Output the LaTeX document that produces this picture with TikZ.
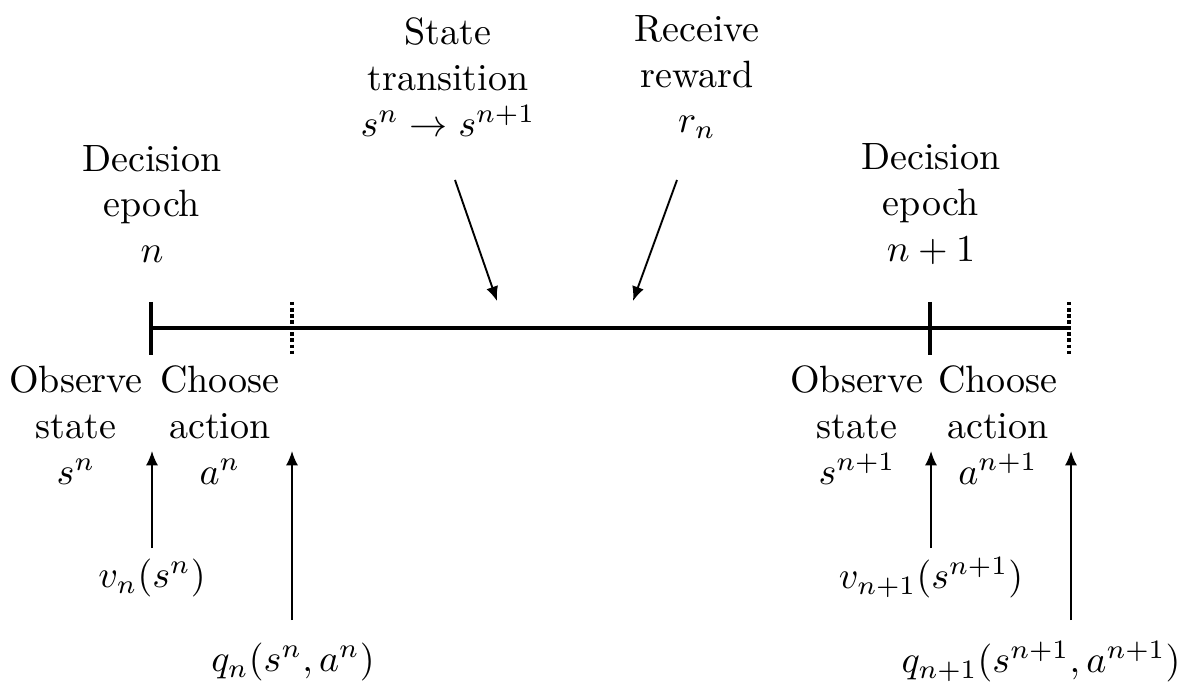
\documentclass[tikz,border=0pt]{standalone}
\usetikzlibrary{arrows.meta}
\begin{document}
\begin{tikzpicture}[x=0.263pt,y=-0.263pt,
  lbl/.style={align=center,inner sep=0pt},
  arr/.style={-{Latex[length=3.8pt,width=3.2pt]}, line width=0.5pt},
  axis/.style={line width=1pt},
  soltick/.style={line width=1.05pt},
  dottick/.style={line width=1.05pt, dash pattern=on 0.9pt off 0.7pt}]
\useasboundingbox (0,0) rectangle (1185,685);
% timeline
\coordinate (L0) at (150,328);
\coordinate (L1) at (1069,328);
\draw[axis] (L0) -- (L1);
\coordinate (t1a) at (151,302); \coordinate (t1b) at (151,355);
\coordinate (t2a) at (292,302); \coordinate (t2b) at (292,355);
\coordinate (t3a) at (930,302); \coordinate (t3b) at (930,355);
\coordinate (t4a) at (1069,302); \coordinate (t4b) at (1069,355);
\draw[soltick] (t1a) -- (t1b);
\draw[dottick] (t2a) -- (t2b);
\draw[soltick] (t3a) -- (t3b);
\draw[dottick] (t4a) -- (t4b);
% top labels
\node[lbl] (de1) at (152,204) {Decision\\epoch\\$n$};
\node[lbl] (de2) at (931,204) {Decision\\epoch\\$n+1$};
\node[lbl] (st) at (448,77) {State\\transition\\$s^n\rightarrow s^{n+1}$};
\node[lbl] (rr) at (697,77) {Receive\\reward\\$r_n$};
\coordinate (sta) at (455,180); \coordinate (stb) at (497,301);
\coordinate (rra) at (677,180); \coordinate (rrb) at (633,301);
\draw[arr] (sta) -- (stb);
\draw[arr] (rra) -- (rrb);
% bottom labels
\node[lbl] (os1) at (76,425) {Observe\\state\\$s^n$};
\node[lbl] (ca1) at (220,425) {Choose\\action\\$a^n$};
\node[lbl] (os2) at (857,425) {Observe\\state\\$s^{n+1}$};
\node[lbl] (ca2) at (998,425) {Choose\\action\\$a^{n+1}$};
\node[lbl] (v1) at (152,578) {$v_n(s^n)$};
\node[lbl] (q1) at (293,662) {$q_n(s^n,a^n)$};
\node[lbl] (v2) at (931,578) {$v_{n+1}(s^{n+1})$};
\node[lbl] (q2) at (1041,662) {$q_{n+1}(s^{n+1},a^{n+1})$};
\coordinate (v1t) at (152,451); \coordinate (v1s) at (152,548);
\coordinate (q1t) at (292,451); \coordinate (q1s) at (292,620);
\coordinate (v2t) at (931,451); \coordinate (v2s) at (931,548);
\coordinate (q2t) at (1071,451); \coordinate (q2s) at (1071,620);
\draw[arr] (v1s) -- (v1t);
\draw[arr] (q1s) -- (q1t);
\draw[arr] (v2s) -- (v2t);
\draw[arr] (q2s) -- (q2t);
\end{tikzpicture}
\end{document}
